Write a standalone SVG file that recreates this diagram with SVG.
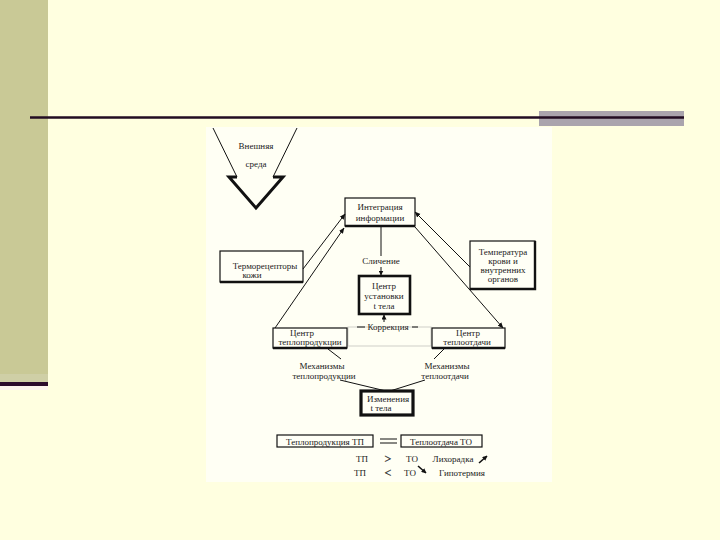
<svg xmlns="http://www.w3.org/2000/svg" width="720" height="540" viewBox="0 0 720 540">
<defs>
<style>
text{font-family:"Liberation Serif","DejaVu Serif",serif;font-size:9px;fill:#1a1a1a;text-anchor:middle}
.box{fill:#fffff6;stroke:#111;stroke-width:1.2}
.thick{fill:#fffff6;stroke:#111;stroke-width:2.6}
.ln{stroke:#111;stroke-width:1;fill:none}
.shadow{stroke:#111;stroke-width:2.4;fill:none}
.faint{stroke:#cfcfc8;stroke-width:1;fill:none}
text.big{font-size:12px;stroke:#1a1a1a;stroke-width:0.3}
</style>
<marker id="ah" viewBox="0 0 10 10" refX="9" refY="5" markerWidth="6" markerHeight="6" orient="auto-start-reverse" markerUnits="userSpaceOnUse">
<path d="M0,1 L10,5 L0,9 Z" fill="#111"/>
</marker>
<marker id="ahs" viewBox="0 0 10 10" refX="9" refY="5" markerWidth="5" markerHeight="5" orient="auto" markerUnits="userSpaceOnUse">
<path d="M0,0 L10,5 L0,10 Z" fill="#111"/>
</marker>
</defs>

<g id="slide">
<rect x="0" y="0" width="720" height="540" fill="#ffffe0"/>
<rect x="0" y="0" width="48" height="374" fill="#c9c996"/>
<rect x="0" y="374" width="48" height="8" fill="#cfcfa6"/>
<rect x="0" y="382" width="48" height="4" fill="#2c0c2c"/>
<rect x="0" y="386" width="48" height="4" fill="#fdf5ee"/>
<rect x="539" y="111" width="145" height="15" fill="#aaa4ad"/>
<line x1="30" y1="117.5" x2="684" y2="117.5" stroke="#220c22" stroke-width="2.6"/>
<rect x="206" y="127" width="346" height="355" fill="#fffff4"/>
</g>

<g id="vneshnyaya-sreda">
<path class="ln" d="M213,128 L237,177 M297,128 L273,177"/>
<path d="M237,177 L229,177 L256,208 L283,177 L273,177" fill="none" stroke="#111" stroke-width="3" stroke-linejoin="miter"/>
<text x="256" y="149">Внешняя</text>
<text x="256" y="167">среда</text>
</g>

<g id="integraciya">
<rect class="box" x="345" y="198" width="70" height="28"/>
<line class="shadow" x1="345" y1="226" x2="415" y2="226"/>
<text x="380" y="210">Интеграция</text>
<text x="380" y="221">информации</text>
</g>

<g id="termoreceptory">
<rect class="box" x="220" y="251" width="83" height="31"/>
<line class="shadow" x1="220" y1="282" x2="303" y2="282"/>
<text x="265" y="269">Терморецепторы</text>
<text x="252" y="278">кожи</text>
</g>

<g id="temperatura">
<rect class="box" x="470" y="241" width="65" height="48"/>
<path class="shadow" d="M470,289 L535,289 L535,241"/>
<text x="503" y="255">Температура</text>
<text x="503" y="264">крови и</text>
<text x="503" y="273">внутренних</text>
<text x="503" y="282">органов</text>
</g>

<g id="centr-ustanovki">
<rect class="thick" x="359" y="276" width="51" height="38"/>
<text x="384" y="289">Центр</text>
<text x="384" y="299">установки</text>
<text x="384" y="309">t тела</text>
</g>

<g id="korrekciya-area">
<rect class="faint" x="348" y="327" width="83" height="19"/>
<line class="ln" x1="357" y1="327" x2="365" y2="327"/>
<line class="ln" x1="412" y1="327" x2="418" y2="327"/>
</g>

<g id="centr-teploprodukcii">
<rect class="box" x="273" y="328" width="74" height="20"/>
<line class="shadow" x1="273" y1="348" x2="347" y2="348"/>
<text x="302" y="335.5">Центр</text>
<text x="310" y="344.5">теплопродукции</text>
</g>

<g id="centr-teplootdachi">
<rect class="box" x="432" y="328" width="73" height="20"/>
<line class="shadow" x1="432" y1="348" x2="505" y2="348"/>
<text x="468" y="335.5">Центр</text>
<text x="467" y="344.5">теплоотдачи</text>
</g>

<g id="mehanizmy-tp">
<text x="322" y="369">Механизмы</text>
<text x="324" y="379">теплопродукции</text>
</g>

<g id="mehanizmy-to">
<text x="447" y="369">Механизмы</text>
<text x="445" y="379">теплоотдачи</text>
</g>

<g id="izmeneniya">
<rect x="361" y="391" width="52" height="24" fill="#fffff6" stroke="#111" stroke-width="3.2"/>
<text x="388" y="402">Изменения</text>
<text x="381" y="411">t тела</text>
</g>

<g id="legend">
<rect class="box" x="277" y="435" width="96" height="12" stroke-width="1"/>
<text x="325" y="444.5">Теплопродукция ТП</text>
<path class="ln" d="M380,439 L397,439 M380,443 L397,443"/>
<rect class="box" x="401" y="435" width="81" height="12" stroke-width="1"/>
<text x="441" y="444.5">Теплоотдача ТО</text>
<text x="362" y="462">ТП</text>
<text class="big" x="388" y="463">&gt;</text>
<text x="412" y="462">ТО</text>
<text x="453" y="462">Лихорадка</text>
<line x1="479" y1="463" x2="487" y2="456" stroke="#111" stroke-width="1.6" marker-end="url(#ahs)"/>
<text x="360" y="476">ТП</text>
<text class="big" x="388" y="477">&lt;</text>
<text x="410" y="476">ТО</text>
<line x1="418" y1="466" x2="426" y2="473" stroke="#111" stroke-width="1.6" marker-end="url(#ahs)"/>
<text x="462" y="476">Гипотермия</text>
</g>

<g id="connectors">
<line class="ln" x1="303" y1="269" x2="345" y2="214" marker-end="url(#ah)"/>
<line class="ln" x1="275" y1="328" x2="344" y2="228" marker-end="url(#ah)"/>
<line class="ln" x1="470" y1="267" x2="415" y2="212" marker-end="url(#ah)"/>
<line class="ln" x1="415" y1="227" x2="503" y2="328" marker-end="url(#ah)"/>
<line class="ln" x1="381" y1="227" x2="381" y2="256"/>
<line class="ln" x1="381" y1="267" x2="381" y2="275" marker-end="url(#ahs)"/>
<text x="381" y="264">Сличение</text>
<line class="ln" x1="384" y1="322" x2="384" y2="315" marker-end="url(#ahs)"/>
<text x="388" y="330">Коррекция</text>
<line class="ln" x1="328" y1="349" x2="341" y2="359"/>
<line class="ln" x1="444" y1="349" x2="434" y2="359"/>
<line class="ln" x1="340" y1="380" x2="386" y2="391"/>
<line class="ln" x1="425" y1="380" x2="390" y2="391"/>
</g>
</svg>
